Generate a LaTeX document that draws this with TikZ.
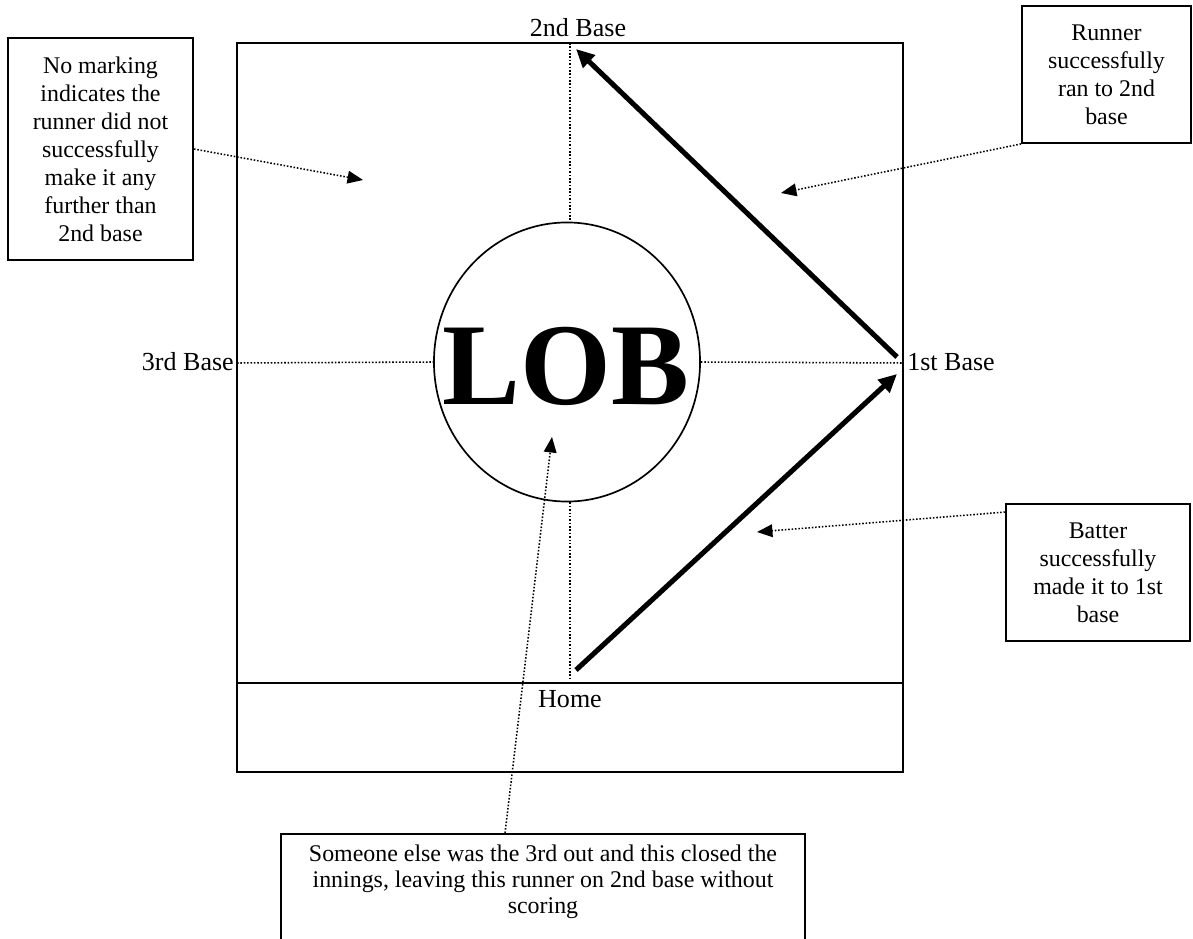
\documentclass[tikz,border=0pt]{standalone}
\usepackage{fontspec}
\setmainfont{Liberation Serif}
\usetikzlibrary{arrows.meta, positioning, shapes, calc}

\begin{document}
\begin{tikzpicture}[x=0.025cm, y=-0.025cm,
    field/.style={draw, line width=1.5pt},
    base/.style={font=\fontsize{18.5}{22}\selectfont, inner sep=0pt},
    note/.style={draw, line width=1.3pt, align=center, inner sep=0pt,
      font=\fontsize{17}{19.9}\selectfont},
    dotline/.style={dash pattern=on 1.1pt off 1.3pt, line width=1.1pt},
    callout/.style={dotline, -{Triangle[length=11pt, width=9pt]}},
    run/.style={line width=3.6pt, -{Triangle[length=13pt, width=12pt]}}]
        \useasboundingbox (0,0) rectangle (1193,939);
        \clip (0,0) rectangle (1193,939);
        % Field and home plate box
        \draw[field] (237,43) rectangle (903,683);
        \draw[field] (237,683) rectangle (903,772);
        % LOB circle
        \node[draw, ellipse, line width=1.2pt, minimum width=6.65cm,
          minimum height=6.975cm, inner sep=0pt] (lob) at (567,362) {};
        \node[font=\fontsize{83}{83}\selectfont\bfseries, inner sep=0pt]
          (lobtxt) at (566,366) {LOB};
        % Bases
        \coordinate (b2) at (570,43);
        \coordinate (b3) at (237,363);
        \coordinate (b1) at (903,363);
        \coordinate (bh) at (570,678);
        \node[base] (second) at (578,28) {2nd Base};
        \node[base, anchor=east] (third) at (234,362) {3rd Base};
        \node[base, anchor=west] (first) at (907,362) {1st Base};
        \node[base] (home) at (570,699) {Home};
        % Base paths
        \draw[dotline] (b2) -- (b2 |- lob.north);
        \draw[dotline] (b2 |- lob.south) -- (bh);
        \draw[dotline] (b3) -- (lob.west);
        \draw[dotline] (lob.east) -- (b1);
        % Runs
        \coordinate (r0) at (576,670);
        \coordinate (r1) at (897,357);
        \coordinate (r2) at (576,49);
        \coordinate (r3) at (897,374);
        \draw[run] (r1) -- (r2);
        \draw[run] (r0) -- (r3);
        % Notes
        \node[note, minimum width=4.625cm, minimum height=5.55cm] (nomark)
          at (100.5,149) {No marking\\indicates the\\runner did not\\successfully\\make it any\\further than\\2nd base};
        \node[note, minimum width=4.225cm, minimum height=3.425cm] (ran2)
          at (1106.5,74.5) {Runner\\successfully\\ran to 2nd\\base};
        \node[note, minimum width=4.6cm, minimum height=3.425cm] (batter)
          at (1098,572.5) {Batter\\successfully\\made it to 1st\\base};
        \node[note, anchor=north, minimum width=13.1cm, inner ysep=7.5pt,
          text depth=3cm, font=\fontsize{17}{18.6}\selectfont] (closed)
          at (543,833)
          {Someone else was the 3rd out and this closed the\\innings, leaving this runner on 2nd base without\\scoring};
        % Callouts
        \coordinate (t1) at (363,180);
        \coordinate (t2) at (781,193);
        \coordinate (t3) at (757,532);
        \coordinate (t4) at (552,437);
        \draw[callout] (nomark.east) -- (t1);
        \draw[callout] (ran2.south west) -- (t2);
        \draw[callout] ($(batter.north west)+(0,9)$) -- (t3);
        \draw[callout] ($(closed.north west)+(225,0)$) -- (t4);
      \end{tikzpicture}
\end{document}
